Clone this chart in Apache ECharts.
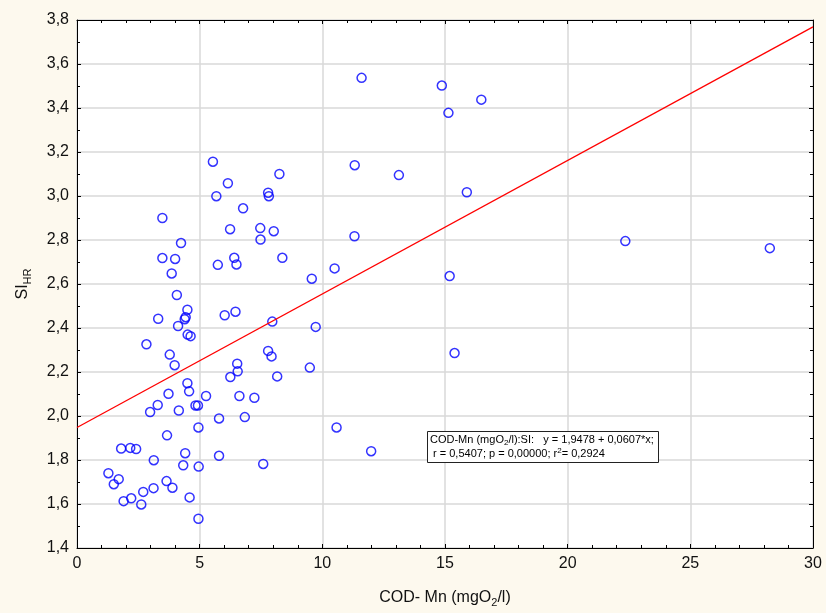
<!DOCTYPE html>
<html>
<head>
<meta charset="utf-8">
<script src="https://cdn.jsdelivr.net/npm/echarts@6/dist/echarts.min.js"></script>
<style>
  html, body { margin: 0; padding: 0; background: #fdf9ee; }
  #chart { width: 826px; height: 613px; }
</style>
</head>
<body>
<div id="chart"></div>
<script>
// COD-Mn (mgO2/l) against SI_HR, one entry per sample
const codMn = [
  1.28, 1.50, 1.70, 1.80, 1.90, 2.17, 2.21, 2.41, 2.62, 2.70,
  2.83, 2.98, 3.13, 3.12, 3.31, 3.29, 3.48, 3.48, 3.65, 3.67,
  3.73, 3.78, 3.86, 3.89, 3.98, 4.00, 4.07, 4.12, 4.15, 4.24,
  4.33, 4.39, 4.41, 4.43, 4.50, 4.50, 4.51, 4.57, 4.59, 4.63,
  4.83, 4.93, 4.95, 4.95, 4.96, 5.26, 5.54, 5.68, 5.74, 5.79,
  5.79, 6.02, 6.15, 6.24, 6.25, 6.41, 6.46, 6.50, 6.53, 6.55,
  6.62, 6.77, 6.84, 7.23, 7.47, 7.48, 7.59, 7.79, 7.82, 7.79,
  7.93, 7.96, 8.02, 8.16, 8.25, 8.37, 9.49, 9.57, 9.73, 10.50,
  10.58, 11.32, 11.31, 11.60, 11.99, 13.12, 14.87, 15.14, 15.19, 15.39,
  15.89, 16.48, 22.35, 28.24
]
const siHR = [
  1.740, 1.690, 1.713, 1.852, 1.613, 1.855, 1.626, 1.850, 1.598, 1.655,
  2.326, 2.018, 1.799, 1.672, 2.442, 2.050, 2.900, 2.718, 1.704, 1.912,
  2.101, 2.279, 2.648, 1.674, 2.231, 2.714, 2.550, 2.409, 2.025, 2.786,
  1.776, 2.440, 1.831, 2.449, 2.483, 2.149, 2.370, 2.112, 1.630, 2.363,
  2.048, 2.048, 1.948, 1.533, 1.770, 2.091, 3.156, 2.999, 2.687, 1.989,
  1.819, 2.458, 3.058, 2.849, 2.177, 2.719, 2.474, 2.689, 2.238, 2.203,
  2.091, 2.944, 1.995, 2.083, 2.854, 2.802, 1.782, 3.015, 2.999, 2.296,
  2.271, 2.429, 2.840, 2.180, 3.100, 2.719, 2.220, 2.624, 2.405, 2.671,
  1.948, 3.140, 2.817, 3.537, 1.840, 3.095, 3.502, 3.378, 2.636, 2.286,
  3.017, 3.438, 2.795, 2.763
]

// fitted line as printed on the chart: y = 1,9478 + 0,0607*x
const fitIntercept = 1.9478
const fitSlope = 0.0607
const fitRange = [0, 30]

const xTicks = { min: 0, max: 30, step: 5 }
const yTicks = { min: 1.4, max: 3.8, step: 0.2 }

const font = "'Liberation Sans', Arial, sans-serif"
const comma = (v) => v.toFixed(1).replace(".", ",")

const chart = echarts.init(document.getElementById("chart"), null, { renderer: "canvas" })

const frameAxis = (extra) => ({
  type: "value",
  axisLine: { show: true, onZero: false, lineStyle: { color: "#000", width: 1 } },
  axisTick: { show: true, inside: true, length: 4, lineStyle: { color: "#000" } },
  minorTick: { show: true, length: 3, lineStyle: { color: "#000" } },
  ...extra,
})

const boxText = { color: "#000", fontFamily: font, fontWeight: "normal" }

const option = {
  animation: false,
  backgroundColor: "#fdf9ee",
  textStyle: { fontFamily: font },
  grid: { left: 77, right: 13, top: 20, bottom: 64, show: true, backgroundColor: "#fff", borderWidth: 0 },
  title: {
    left: 427,
    top: 430,
    padding: [3, 5, 3, 3],
    backgroundColor: "#fff",
    borderColor: "#222",
    borderWidth: 1,
    text: "{t|COD-Mn (mgO}{s|2}{t|/l):SI:   y = 1,9478 + 0,0607*x;}\n{t| r = 0,5407; p = 0,00000; r}{p|2}{t|= 0,2924}",
    textStyle: {
      fontFamily: font,
      fontWeight: "normal",
      rich: {
        t: { ...boxText, fontSize: 11, lineHeight: 14, verticalAlign: "middle" },
        s: { ...boxText, fontSize: 8, lineHeight: 7, verticalAlign: "bottom" },
        p: { ...boxText, fontSize: 8, lineHeight: 7, verticalAlign: "top" },
      },
    },
  },
  xAxis: [
    frameAxis({
      position: "bottom",
      min: xTicks.min, max: xTicks.max, interval: xTicks.step,
      minorTick: { show: true, splitNumber: 5, length: 3, lineStyle: { color: "#000" } },
      axisLabel: { color: "#111", fontSize: 16, margin: 8, fontFamily: font, formatter: (v) => String(v) },
      splitLine: { show: true, lineStyle: { color: "#d9d9d9", width: 1.5 } },
      name: "{m|COD- Mn (mgO}{s|2}{m|/l)}",
      nameLocation: "middle",
      nameGap: 40,
      nameTextStyle: {
        rich: {
          m: { fontSize: 16, lineHeight: 20, color: "#111", fontFamily: font, verticalAlign: "middle" },
          s: { fontSize: 11, lineHeight: 10, color: "#111", fontFamily: font, verticalAlign: "bottom" },
        },
      },
    }),
    frameAxis({
      position: "top",
      min: xTicks.min, max: xTicks.max, interval: xTicks.step,
      minorTick: { show: true, splitNumber: 5, length: 3, lineStyle: { color: "#000" } },
      axisLabel: { show: false },
      splitLine: { show: false },
    }),
  ],
  yAxis: [
    frameAxis({
      position: "left",
      min: yTicks.min, max: yTicks.max, interval: yTicks.step,
      minorTick: { show: true, splitNumber: 2, length: 3, lineStyle: { color: "#000" } },
      axisLabel: { color: "#111", fontSize: 16, margin: 8, fontFamily: font, formatter: comma },
      splitLine: { show: true, lineStyle: { color: "#d9d9d9", width: 1.5 } },
      name: "{m|SI}{s|HR}",
      nameLocation: "middle",
      nameRotate: 90,
      nameGap: 44,
      nameTextStyle: {
        rich: {
          m: { fontSize: 16, lineHeight: 20, color: "#111", fontFamily: font, verticalAlign: "middle" },
          s: { fontSize: 11, lineHeight: 10, color: "#111", fontFamily: font, verticalAlign: "bottom" },
        },
      },
    }),
    frameAxis({
      position: "right",
      min: yTicks.min, max: yTicks.max, interval: yTicks.step,
      minorTick: { show: true, splitNumber: 2, length: 3, lineStyle: { color: "#000" } },
      axisLabel: { show: false },
      splitLine: { show: false },
    }),
  ],
  series: [
    {
      name: "samples",
      type: "scatter",
      xAxisIndex: 0,
      yAxisIndex: 0,
      symbol: "circle",
      symbolSize: 9,
      itemStyle: { color: "rgba(0,0,0,0)", borderColor: "#0000ff", borderWidth: 1.5 },
      data: codMn.map((x, i) => [x, siHR[i]]),
      z: 3,
    },
    {
      name: "fit",
      type: "line",
      xAxisIndex: 0,
      yAxisIndex: 0,
      symbol: "none",
      lineStyle: { color: "#ff0000", width: 1.3 },
      data: fitRange.map((x) => [x, fitIntercept + fitSlope * x]),
      z: 4,
    },
  ],
}

chart.setOption(option)
</script>
</body>
</html>
